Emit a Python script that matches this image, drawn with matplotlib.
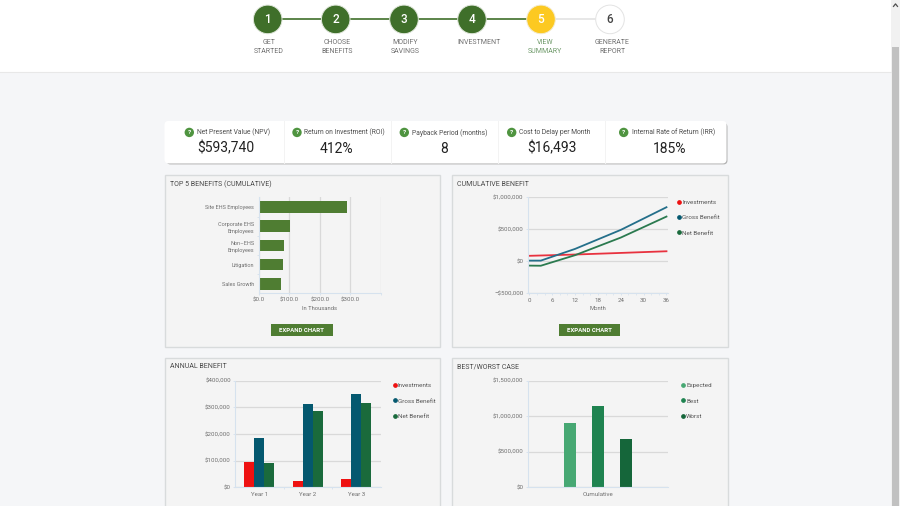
import matplotlib
matplotlib.use("Agg")
import matplotlib.pyplot as plt
from matplotlib.lines import Line2D
from matplotlib.patches import Circle, FancyBboxPatch, Rectangle

plt.rcParams["font.family"] = ["Roboto", "DejaVu Sans"]

W, H = 900, 506
GREEN = "#3f6f2a"
BAR_GREEN = "#4f7d32"
RED = "#ee1111"
TEAL = "#04586f"
DARK_GREEN = "#1a6a3c"
GRID = "#d9d9d9"
AXIS = "#d6e2ee"
TICK_TEXT = "#6f6f6f"

# header steps
step_labels = ["GET\nSTARTED", "CHOOSE\nBENEFITS", "MODIFY\nSAVINGS", "INVESTMENT", "VIEW\nSUMMARY", "GENERATE\nREPORT"]
step_numbers = ["1", "2", "3", "4", "5", "6"]

# kpi row
kpi_labels = ["Net Present Value (NPV)", "Return on Investment (ROI)", "Payback Period (months)",
              "Cost to Delay per Month", "Internal Rate of Return (IRR)"]
kpi_values = ["$593,740", "412%", "8", "$16,493", "185%"]

# top 5 benefits, in thousands
benefit_names = ["Site EHS Employees", "Corporate EHS\nEmployees", "Non\u2013EHS\nEmployees", "Litigation", "Sales Growth"]
benefit_values = [290, 104, 84, 80, 75]

# cumulative benefit
months_inv = [0, 12, 24, 36]
investments = [85000, 105000, 130000, 156000]
months_ben = [0, 3, 12, 24, 36]
gross_benefit = [10000, 10000, 193000, 490000, 844000]
net_benefit = [-68000, -70000, 95000, 370000, 698000]

# annual benefit
years = ["Year 1", "Year 2", "Year 3"]
annual_investments = [94000, 25000, 33000]
annual_gross = [185000, 314000, 350000]
annual_net = [90000, 288000, 316000]

# best / worst
case_names = ["Expected", "Best", "Worst"]
case_values = [909000, 1139000, 680000]
case_colors = ["#47a873", "#1f8350", "#15663a"]


def px_axes(fig, left, top, right, bottom, **kw):
    return fig.add_axes([left / W, 1 - bottom / H, (right - left) / W, (bottom - top) / H], **kw)


def style_axes(ax, grid_axis="y"):
    ax.patch.set_alpha(0)
    for side in ["top", "right"]:
        ax.spines[side].set_visible(False)
    for side in ["left", "bottom"]:
        ax.spines[side].set_color(AXIS)
        ax.spines[side].set_linewidth(0.8)
    ax.grid(True, axis=grid_axis, color=GRID, linewidth=0.9)
    ax.set_axisbelow(True)
    ax.tick_params(length=1.5, width=0.6, color=AXIS, labelsize=4.4, labelcolor=TICK_TEXT, pad=1.5)


def add_legend(ax, labels, colors, x, y):
    handles = [Line2D([], [], linestyle="none", marker="o", markersize=2.4, color=c) for c in colors]
    ax.legend(handles, labels, loc="upper left", bbox_to_anchor=(x / W, 1 - y / H),
              bbox_transform=ax.figure.transFigure, frameon=False, fontsize=4.5, labelcolor="#555555",
              handletextpad=0.0, handlelength=1.0, labelspacing=1.6, borderpad=0, borderaxespad=0)


def panel(bg, left, top, right, bottom, title):
    bg.add_patch(Rectangle((left, top), right - left, bottom - top, facecolor="#f4f4f4", edgecolor="#d8dbdc", linewidth=1))
    bg.text(left + 5.5, top + 8.5, title, fontsize=5.0, color="#4a4a4a", va="center", ha="left")


def button(bg, left, right):
    bg.add_patch(Rectangle((left, 324), right - left, 12.5, facecolor=BAR_GREEN, edgecolor="none"))
    bg.text((left + right) / 2, 330.3, "EXPAND CHART", fontsize=4.4, color="white", ha="center", va="center", fontweight="bold")


fig = plt.figure(figsize=(9, 5.061), dpi=100, facecolor="#f5f6f8")

# page chrome drawn in pixel coordinates
bg = fig.add_axes([0, 0, 1, 1])
bg.set_xlim(0, W)
bg.set_ylim(H, 0)
bg.axis("off")
bg.add_patch(Rectangle((0, 0), 891, 72, facecolor="white", edgecolor="none"))
bg.plot([0, 891], [72.3, 72.3], color="#e8e8e8", linewidth=0.8)
bg.add_patch(Rectangle((891, 0), 9, H, facecolor="#f1f1f1", edgecolor="none"))
bg.add_patch(Rectangle((892, 47), 7, H - 47, facecolor="#c1c1c1", edgecolor="none"))
bg.plot([893.5, 895.5, 897.5], [6.5, 4, 6.5], color="#505050", linewidth=0.9)

step_x = [267.7, 335.7, 404, 472, 541, 610]
step_text_x = [269, 337.3, 405, 479.3, 545, 612.3]
for i in range(5):
    done = i < 4
    bg.plot(step_x[i:i + 2], [19.5, 19.5], color=GREEN if done else "#e3e3e3", linewidth=1.2, zorder=1)
for i, x in enumerate(step_x):
    if i < 4:
        face, edge, tc = GREEN, "#dfe6da", "white"
    elif i == 4:
        face, edge, tc = "#fcc921", "#f3ecd0", "white"
    else:
        face, edge, tc = "white", "#e3e3e3", "#444444"
    bg.add_patch(Circle((x, 19.5), 14.3, facecolor=face, edgecolor=edge, linewidth=0.7, zorder=2))
    bg.text(x, 19.8, step_numbers[i], fontsize=8.5, color=tc, ha="center", va="center", fontweight="medium", zorder=3)
    bg.text(step_text_x[i], 39, step_labels[i], fontsize=5.0, color="#6f9a6a" if i == 4 else "#707070",
            ha="center", va="top", linespacing=1.3)

# kpi card
bg.add_patch(FancyBboxPatch((166.5, 123), 561, 41.5, boxstyle="round,pad=0,rounding_size=4", facecolor="#b5b5b5", edgecolor="none"))
bg.add_patch(FancyBboxPatch((164.5, 121), 562, 42.5, boxstyle="round,pad=0,rounding_size=4", facecolor="white", edgecolor="none"))
for x in [283.5, 390.5, 498, 605]:
    bg.plot([x, x], [121, 163.5], color="#f3f3f3", linewidth=0.7)
kpi_icons = [189.3, 297, 404.3, 511.7, 623.7]
kpi_text_x = [197, 304.3, 412.3, 519.3, 631.7]
kpi_value_x = [226.3, 336.7, 444.5, 551.7, 670]
for i in range(5):
    bg.add_patch(Circle((kpi_icons[i], 132.5), 4.7, facecolor="#4f9440", edgecolor="none"))
    bg.text(kpi_icons[i], 132.7, "?", fontsize=4.6, color="white", ha="center", va="center", fontweight="bold")
    bg.text(kpi_text_x[i], 132.8, kpi_labels[i], fontsize=4.9, color="#4f4f4f", ha="left", va="center")
    bg.text(kpi_value_x[i], 148.5, kpi_values[i], fontsize=10, color="#222222", ha="center", va="center")

panel(bg, 164.5, 175.5, 440, 347, "TOP 5 BENEFITS (CUMULATIVE)")
panel(bg, 451.5, 175.5, 727.5, 347, "CUMULATIVE BENEFIT")
panel(bg, 164.5, 358, 440, 520, "ANNUAL BENEFIT")
panel(bg, 451.5, 358, 727.5, 520, "BEST/WORST CASE")
button(bg, 271, 332.5)
button(bg, 558.5, 620)

# top 5 benefits
ax1 = px_axes(fig, 258.5, 197.5, 380.5, 293.5)
style_axes(ax1, "x")
ax1.barh(range(len(benefit_names)), benefit_values, height=0.6, color=BAR_GREEN)
ax1.set_ylim(4.5, -0.5)
ax1.set_xlim(0, 398)
ax1.set_yticks(range(len(benefit_names)), benefit_names, linespacing=1.55)
ax1.tick_params(axis="y", length=0, pad=3, labelsize=4.0)
ax1.set_yticks([0.5, 1.5, 2.5, 3.5], minor=True)
ax1.tick_params(axis="y", which="minor", length=1.5, width=0.6, color=AXIS)
ax1.set_xticks([0, 100, 200, 300, 398])
ax1.set_xticklabels(["$0.0", "$100.0", "$200.0", "$300.0", ""])
ax1.set_xlabel("In Thousands", fontsize=4.2, color=TICK_TEXT, labelpad=2.5)

# cumulative benefit
ax2 = px_axes(fig, 527.5, 197.3, 668, 293.3)
style_axes(ax2, "y")
ax2.plot(months_inv, investments, color="#e8323f", linewidth=1.3)
ax2.plot(months_ben, gross_benefit, color="#246f8a", linewidth=1.3)
ax2.plot(months_ben, net_benefit, color="#2b7a4f", linewidth=1.3)
ax2.set_xlim(-0.5, 36.4)
ax2.set_ylim(-500000, 1000000)
ax2.set_xticks(range(0, 37, 6))
ax2.set_xticks(range(0, 37, 2), minor=True)
ax2.tick_params(axis="x", which="minor", length=1.2, width=0.5, color=AXIS)
ax2.set_yticks([-500000, 0, 500000, 1000000])
ax2.set_yticklabels(["\u2212$500,000", "$0", "$500,000", "$1,000,000"])
ax2.set_xlabel("Month", fontsize=4.2, color=TICK_TEXT, labelpad=2.5)
add_legend(ax2, ["Investments", "Gross Benefit", "Net Benefit"], [RED, TEAL, DARK_GREEN], 676, 199.5)

# annual benefit
ax3 = px_axes(fig, 235, 380.7, 380.5, 487.3)
style_axes(ax3, "y")
for i in range(3):
    ax3.bar(i - 0.205, annual_investments[i], width=0.205, color=RED)
    ax3.bar(i, annual_gross[i], width=0.205, color=TEAL)
    ax3.bar(i + 0.205, annual_net[i], width=0.205, color=DARK_GREEN)
ax3.set_xlim(-0.5, 2.5)
ax3.set_ylim(0, 400000)
ax3.set_xticks(range(3), years)
ax3.tick_params(axis="x", length=0, pad=3)
ax3.set_xticks([0.5, 1.5], minor=True)
ax3.tick_params(axis="x", which="minor", length=1.5, width=0.6, color=AXIS)
ax3.set_yticks([0, 100000, 200000, 300000, 400000])
ax3.set_yticklabels(["$0", "$100,000", "$200,000", "$300,000", "$400,000"])
add_legend(ax3, ["Investments", "Gross Benefit", "Net Benefit"], [RED, TEAL, DARK_GREEN], 391.5, 382.7)

# best / worst case
ax4 = px_axes(fig, 527.5, 380.7, 668, 487.3)
style_axes(ax4, "y")
ax4.bar([0, 1, 2], case_values, width=0.43, color=case_colors)
ax4.set_xlim(-1.5, 3.5)
ax4.set_ylim(0, 1500000)
ax4.set_xticks([1], ["Cumulative"])
ax4.tick_params(axis="x", length=0, pad=3)
ax4.set_yticks([0, 500000, 1000000, 1500000])
ax4.set_yticklabels(["$0", "$500,000", "$1,000,000", "$1,500,000"])
add_legend(ax4, case_names, case_colors, 680, 382.7)

fig.savefig("out.png", dpi=100, facecolor=fig.get_facecolor())
